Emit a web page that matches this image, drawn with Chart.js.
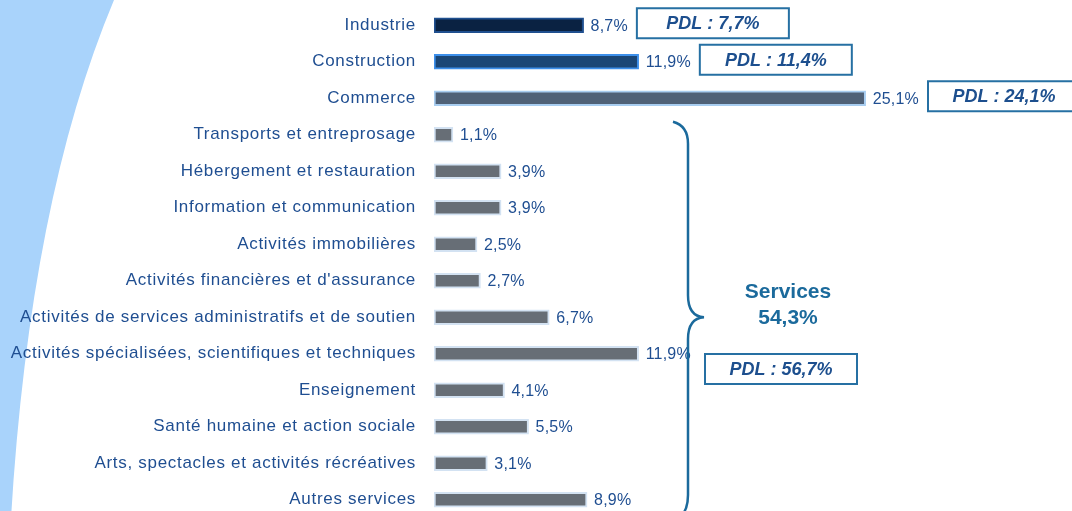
<!DOCTYPE html>
<html>
<head>
<meta charset="utf-8">
<script src="https://cdn.jsdelivr.net/npm/chart.js@4"></script>
<style>
  html, body { margin: 0; padding: 0; background: #fff; overflow: hidden; }
  #wrap { position: relative; width: 1072px; height: 518px; }
</style>
</head>
<body>
<div id="wrap"><canvas id="canvas"></canvas></div>
<script>
// categories and shares (%) of establishments
var categories = [
  'Industrie',
  'Construction',
  'Commerce',
  'Transports et entreprosage',
  'Hébergement et restauration',
  'Information et communication',
  'Activités immobilières',
  "Activités financières et d'assurance",
  'Activités de services administratifs et de soutien',
  'Activités spécialisées, scientifiques et techniques',
  'Enseignement',
  'Santé humaine et action sociale',
  'Arts, spectacles et activités récréatives',
  'Autres services'
];
var shares = [8.7, 11.9, 25.1, 1.1, 3.9, 3.9, 2.5, 2.7, 6.7, 11.9, 4.1, 5.5, 3.1, 8.9];
var shareLabels = ['8,7%', '11,9%', '25,1%', '1,1%', '3,9%', '3,9%', '2,5%', '2,7%', '6,7%', '11,9%', '4,1%', '5,5%', '3,1%', '8,9%'];
// regional (PDL) comparison for the first three sectors
var pdlLabels = ['PDL : 7,7%', 'PDL : 11,4%', 'PDL : 24,1%'];
var servicesTitle = 'Services';
var servicesShare = '54,3%';
var servicesPdl = 'PDL : 56,7%';

var blueText = '#1F4E91';
var teal = '#1B6A9C';

var fills = ['#0A2242', '#1A4676', '#4F6177'];
var borders = ['#1F4F8F', '#3D8FEA', '#A8CDF0'];
while (fills.length < categories.length) { fills.push('#676E76'); borders.push('#D3E2F2'); }

var decor = {
  id: 'decor',
  beforeDraw: function (chart) {
    var ctx = chart.ctx;
    ctx.save();
    ctx.fillStyle = '#A9D3FB';
    ctx.beginPath();
    ctx.moveTo(0, 0);
    ctx.lineTo(114, 0);
    ctx.quadraticCurveTo(30, 200, 11, 518);
    ctx.lineTo(0, 518);
    ctx.closePath();
    ctx.fill();
    ctx.restore();
    ctx.letterSpacing = '0.7px';
  },
  afterDatasetsDraw: function (chart) {
    var ctx = chart.ctx;
    var meta = chart.getDatasetMeta(0);
    var y = chart.scales.y;
    ctx.save();
    ctx.textBaseline = 'middle';
    meta.data.forEach(function (bar, i) {
      ctx.letterSpacing = '0.2px';
      ctx.font = '16px "Liberation Sans", Arial, sans-serif';
      ctx.fillStyle = blueText;
      ctx.textAlign = 'left';
      var tx = bar.x + 7;
      ctx.fillText(shareLabels[i], tx, bar.y + 1);
      if (i < pdlLabels.length) {
        var bx = tx + ctx.measureText(shareLabels[i]).width + 9;
        var by = bar.y - 17;
        ctx.strokeStyle = '#2670A3';
        ctx.lineWidth = 2;
        ctx.strokeRect(bx, by, 152, 30);
        ctx.letterSpacing = '0px';
        ctx.font = 'italic bold 18px "Liberation Sans", Arial, sans-serif';
        ctx.fillStyle = '#1D4F8E';
        ctx.textAlign = 'center';
        ctx.fillText(pdlLabels[i], bx + 76, by + 16);
      }
    });
    ctx.letterSpacing = '0px';

    // brace grouping the services rows
    var top = y.getPixelForValue(3) - 13;
    var mid = y.getPixelForValue(8);
    var bx0 = 688;
    ctx.strokeStyle = teal;
    ctx.lineWidth = 2.5;
    ctx.beginPath();
    ctx.moveTo(673, top);
    ctx.quadraticCurveTo(bx0, top + 4, bx0, top + 22);
    ctx.lineTo(bx0, mid - 22);
    ctx.quadraticCurveTo(bx0, mid - 1, 704, mid);
    ctx.quadraticCurveTo(bx0, mid + 1, bx0, mid + 22);
    ctx.lineTo(bx0, 495);
    ctx.quadraticCurveTo(bx0, 510, 680, 518);
    ctx.stroke();

    ctx.fillStyle = teal;
    ctx.textAlign = 'center';
    ctx.font = 'bold 21px "Liberation Sans", Arial, sans-serif';
    ctx.fillText(servicesTitle, 788, mid - 25);
    ctx.fillText(servicesShare, 788, mid + 1);

    ctx.strokeStyle = '#2670A3';
    ctx.lineWidth = 2;
    ctx.strokeRect(705, 354, 152, 30);
    ctx.font = 'italic bold 18px "Liberation Sans", Arial, sans-serif';
    ctx.fillStyle = '#1D4F8E';
    ctx.fillText(servicesPdl, 781, 370);
    ctx.restore();
  }
};

new Chart(document.getElementById('canvas'), {
  type: 'bar',
  data: {
    labels: categories,
    datasets: [{
      data: shares,
      backgroundColor: fills,
      borderColor: borders,
      borderWidth: 2,
      borderSkipped: false,
      barThickness: 15
    }]
  },
  options: {
    indexAxis: 'y',
    responsive: true,
    maintainAspectRatio: false,
    animation: false,
    layout: { padding: { top: 7, right: 0, bottom: 0, left: 0 } },
    plugins: {
      legend: { display: false },
      tooltip: { enabled: false }
    },
    scales: {
      x: { display: false, min: 0, max: 37.1 },
      y: {
        grid: { display: false, drawTicks: false, tickLength: 0 },
        border: { display: false },
        ticks: {
          color: blueText,
          padding: 18,
          autoSkip: false,
          font: { family: '"Liberation Sans", Arial, sans-serif', size: 17 }
        },
        afterFit: function (scale) {
          scale.width = 434;
          scale.paddingTop = 0;
          scale.paddingBottom = 0;
        }
      }
    }
  },
  plugins: [decor]
});
</script>
</body>
</html>
